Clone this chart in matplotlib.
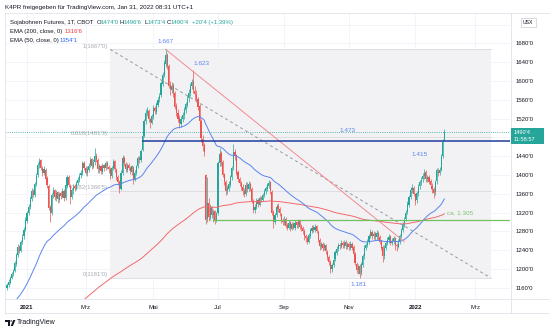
import matplotlib
matplotlib.use("Agg")
import matplotlib.pyplot as plt
import numpy as np
import pandas as pd
from matplotlib.patches import Rectangle, Polygon, Circle

plt.rcParams["font.family"] = ["Liberation Sans", "DejaVu Sans"]

# ---------------- daily OHLC, Sojabohnen Futures (US cents / bushel) ----------------
opens = [
    1160, 1166, 1171, 1181, 1189, 1196, 1211, 1229, 1246, 1239,
    1257, 1269, 1283, 1303, 1320, 1331, 1349, 1366, 1357, 1381,
    1399, 1421, 1431, 1414, 1404, 1411, 1393, 1376, 1331, 1319,
    1359, 1367, 1351, 1363, 1347, 1361, 1354, 1366, 1351, 1377,
    1396, 1377, 1353, 1367, 1376, 1371, 1383, 1389, 1399, 1404,
    1426, 1414, 1404, 1411, 1421, 1433, 1417, 1427, 1441, 1431,
    1411, 1419, 1407, 1421, 1414, 1426, 1417, 1413, 1397, 1414,
    1429, 1411, 1396, 1384, 1371, 1404, 1436, 1424, 1411, 1421,
    1414, 1407, 1417, 1391, 1404, 1419, 1436, 1431, 1452, 1483,
    1514, 1531, 1537, 1519, 1511, 1524, 1543, 1534, 1549, 1561,
    1569, 1594, 1613, 1637, 1656, 1631, 1591, 1581, 1591, 1574,
    1546, 1531, 1521, 1509, 1519, 1527, 1539, 1549, 1563, 1574,
    1589, 1599, 1579, 1573, 1561, 1546, 1514, 1477, 1463, 1400,
    1306, 1341, 1309, 1331, 1314, 1323, 1304, 1318, 1426, 1446,
    1427, 1401, 1384, 1366, 1371, 1379, 1396, 1416, 1449, 1441,
    1406, 1391, 1383, 1374, 1366, 1359, 1379, 1369, 1381, 1371,
    1344, 1326, 1331, 1346, 1337, 1351, 1347, 1357, 1366, 1371,
    1377, 1384, 1364, 1321, 1299, 1314, 1333, 1327, 1317, 1303,
    1299, 1306, 1293, 1287, 1299, 1285, 1296, 1287, 1299, 1293,
    1301, 1291, 1287, 1281, 1271, 1266, 1257, 1271, 1281, 1289,
    1282, 1291, 1279, 1261, 1247, 1253, 1244, 1251, 1237, 1226,
    1214, 1199, 1209, 1221, 1234, 1243, 1251, 1247, 1256, 1249,
    1257, 1247, 1253, 1245, 1254, 1246, 1231, 1211, 1197, 1206,
    1191, 1209, 1227, 1244, 1251, 1257, 1269, 1279, 1269, 1276,
    1267, 1277, 1267, 1259, 1246, 1227, 1244, 1256, 1261, 1269,
    1256, 1259, 1266, 1251, 1247, 1257, 1269, 1283, 1294, 1306,
    1321, 1337, 1353, 1367, 1373, 1359, 1346, 1361, 1376, 1384,
    1391, 1397, 1406, 1391, 1396, 1386, 1377, 1371, 1363, 1386,
    1409, 1404, 1411, 1441, 1474,
]
highs = [
    1170, 1178, 1184, 1194, 1200, 1216, 1234, 1252, 1250, 1262,
    1275, 1290, 1310, 1324, 1338, 1355, 1372, 1370, 1385, 1405,
    1428, 1437, 1434, 1420, 1418, 1414, 1398, 1380, 1335, 1362,
    1375, 1370, 1368, 1366, 1364, 1366, 1372, 1370, 1383, 1400,
    1400, 1380, 1372, 1380, 1380, 1387, 1395, 1404, 1410, 1430,
    1430, 1420, 1418, 1425, 1438, 1436, 1434, 1458, 1446, 1435,
    1424, 1422, 1426, 1424, 1430, 1430, 1422, 1416, 1420, 1434,
    1432, 1415, 1400, 1390, 1410, 1442, 1440, 1428, 1425, 1426,
    1420, 1422, 1420, 1410, 1422, 1440, 1440, 1455, 1485, 1520,
    1540, 1545, 1540, 1522, 1530, 1548, 1546, 1555, 1566, 1574,
    1600, 1620, 1645, 1667, 1660, 1635, 1600, 1598, 1596, 1578,
    1552, 1540, 1528, 1525, 1534, 1545, 1556, 1570, 1582, 1596,
    1605, 1623, 1590, 1580, 1566, 1550, 1518, 1485, 1468, 1402,
    1395, 1350, 1338, 1334, 1328, 1326, 1322, 1430, 1458, 1450,
    1432, 1405, 1390, 1378, 1386, 1400, 1420, 1465, 1455, 1444,
    1410, 1396, 1388, 1380, 1372, 1384, 1385, 1386, 1385, 1374,
    1348, 1338, 1350, 1350, 1355, 1356, 1362, 1370, 1376, 1383,
    1390, 1388, 1368, 1325, 1320, 1338, 1340, 1332, 1320, 1308,
    1312, 1310, 1298, 1304, 1302, 1300, 1300, 1304, 1303, 1306,
    1304, 1295, 1292, 1285, 1275, 1270, 1276, 1286, 1294, 1294,
    1296, 1294, 1282, 1265, 1258, 1257, 1255, 1254, 1240, 1230,
    1218, 1212, 1225, 1240, 1248, 1256, 1256, 1262, 1260, 1262,
    1262, 1258, 1258, 1260, 1258, 1250, 1236, 1215, 1210, 1210,
    1215, 1232, 1250, 1256, 1264, 1275, 1285, 1282, 1280, 1279,
    1282, 1280, 1272, 1262, 1250, 1250, 1260, 1268, 1274, 1272,
    1266, 1270, 1268, 1256, 1263, 1274, 1286, 1300, 1310, 1326,
    1344, 1358, 1374, 1380, 1376, 1362, 1366, 1380, 1390, 1396,
    1404, 1412, 1410, 1400, 1400, 1392, 1382, 1375, 1390, 1415,
    1414, 1416, 1445, 1476, 1496.75,
]
lows = [
    1156, 1162, 1168, 1178, 1185, 1193, 1207, 1225, 1234, 1236,
    1252, 1264, 1280, 1298, 1314, 1327, 1345, 1352, 1352, 1376,
    1395, 1415, 1410, 1398, 1400, 1388, 1372, 1325, 1300, 1315,
    1350, 1346, 1345, 1340, 1342, 1348, 1350, 1345, 1347, 1372,
    1374, 1338, 1348, 1360, 1366, 1368, 1378, 1385, 1394, 1400,
    1410, 1400, 1398, 1406, 1416, 1412, 1414, 1422, 1428, 1405,
    1404, 1402, 1403, 1408, 1410, 1412, 1405, 1392, 1394, 1410,
    1406, 1390, 1378, 1362, 1368, 1400, 1420, 1406, 1406, 1410,
    1402, 1400, 1380, 1386, 1400, 1415, 1426, 1428, 1450, 1480,
    1508, 1525, 1512, 1500, 1508, 1520, 1530, 1530, 1545, 1556,
    1565, 1590, 1608, 1630, 1625, 1585, 1570, 1575, 1565, 1540,
    1525, 1512, 1500, 1502, 1512, 1520, 1532, 1545, 1555, 1568,
    1582, 1575, 1560, 1555, 1538, 1505, 1470, 1450, 1440, 1295,
    1300, 1302, 1305, 1308, 1300, 1295, 1300, 1315, 1420, 1420,
    1395, 1378, 1358, 1360, 1366, 1375, 1390, 1410, 1432, 1400,
    1385, 1376, 1368, 1358, 1352, 1355, 1364, 1365, 1365, 1340,
    1318, 1320, 1328, 1332, 1334, 1342, 1344, 1352, 1360, 1366,
    1372, 1360, 1315, 1288, 1295, 1310, 1322, 1312, 1298, 1294,
    1294, 1288, 1282, 1284, 1280, 1282, 1284, 1283, 1288, 1288,
    1285, 1280, 1274, 1262, 1258, 1252, 1255, 1266, 1276, 1278,
    1278, 1276, 1258, 1240, 1242, 1238, 1240, 1232, 1220, 1208,
    1192, 1194, 1205, 1216, 1230, 1238, 1242, 1244, 1244, 1245,
    1242, 1242, 1240, 1240, 1240, 1228, 1208, 1192, 1190, 1181,
    1186, 1205, 1222, 1240, 1246, 1254, 1265, 1264, 1264, 1262,
    1262, 1262, 1252, 1240, 1215, 1222, 1240, 1250, 1256, 1250,
    1250, 1254, 1240, 1238, 1244, 1254, 1265, 1278, 1290, 1302,
    1316, 1332, 1348, 1362, 1355, 1335, 1340, 1356, 1370, 1378,
    1385, 1392, 1385, 1384, 1380, 1370, 1362, 1350, 1358, 1380,
    1398, 1400, 1408, 1436, 1473.5,
]
closes = [
    1165, 1172, 1180, 1190, 1195, 1212, 1230, 1247, 1238, 1258,
    1268, 1282, 1304, 1318, 1332, 1348, 1365, 1358, 1380, 1398,
    1422, 1430, 1415, 1405, 1412, 1392, 1378, 1330, 1318, 1358,
    1366, 1352, 1362, 1348, 1360, 1355, 1365, 1350, 1378, 1395,
    1378, 1352, 1368, 1375, 1372, 1382, 1390, 1398, 1405, 1425,
    1415, 1405, 1412, 1420, 1432, 1418, 1428, 1440, 1432, 1412,
    1418, 1408, 1420, 1415, 1425, 1418, 1412, 1398, 1415, 1428,
    1412, 1395, 1385, 1370, 1405, 1435, 1425, 1412, 1420, 1415,
    1408, 1418, 1390, 1405, 1418, 1435, 1432, 1450, 1482, 1515,
    1532, 1538, 1518, 1512, 1525, 1542, 1535, 1550, 1560, 1568,
    1595, 1612, 1638, 1655, 1632, 1590, 1582, 1590, 1575, 1545,
    1532, 1520, 1510, 1518, 1528, 1538, 1550, 1562, 1575, 1590,
    1598, 1580, 1572, 1562, 1545, 1515, 1478, 1462, 1448, 1305,
    1340, 1310, 1330, 1315, 1322, 1305, 1318, 1425, 1445, 1428,
    1400, 1385, 1365, 1372, 1380, 1395, 1415, 1448, 1440, 1405,
    1392, 1382, 1375, 1365, 1360, 1378, 1370, 1380, 1370, 1345,
    1325, 1332, 1345, 1338, 1350, 1348, 1358, 1365, 1372, 1378,
    1383, 1365, 1320, 1300, 1315, 1332, 1328, 1318, 1302, 1300,
    1305, 1292, 1288, 1298, 1286, 1295, 1288, 1298, 1294, 1300,
    1290, 1286, 1280, 1270, 1265, 1258, 1272, 1282, 1288, 1283,
    1290, 1280, 1262, 1248, 1252, 1245, 1250, 1238, 1225, 1215,
    1200, 1208, 1220, 1235, 1242, 1250, 1248, 1255, 1250, 1256,
    1248, 1252, 1246, 1253, 1245, 1232, 1212, 1198, 1205, 1190,
    1210, 1228, 1245, 1250, 1258, 1270, 1278, 1270, 1275, 1268,
    1276, 1268, 1258, 1245, 1228, 1245, 1255, 1262, 1268, 1255,
    1260, 1265, 1250, 1248, 1258, 1270, 1282, 1295, 1305, 1320,
    1338, 1352, 1368, 1372, 1360, 1345, 1362, 1375, 1385, 1390,
    1398, 1405, 1392, 1395, 1385, 1378, 1370, 1362, 1385, 1410,
    1405, 1410, 1440, 1470, 1490.5,
]

# EMA starting levels carried over from the 2020 history
ema50_start = 1115
ema200_start = 995

# drawn levels / annotations
fib_high = 1667
fib_low = 1181
line_1473 = 1473
line_1305 = 1305
last_price = 1490.5

month_labels = ["2021", "Mrz", "Mai", "Jul", "Sep", "Nov", "2022", "Mrz"]
month_starts = ["2021-01", "2021-03", "2021-05", "2021-07", "2021-09",
                "2021-11", "2022-01", "2022-03"]
price_ticks = list(range(1160, 1721, 40))
# scale labels hidden behind the price tag and the currency badge
covered_ticks = [1480, 1720]

# ---------------- CBOT trading calendar (bar index axis) ----------------
holidays = ["2020-12-25", "2021-01-01", "2021-01-18", "2021-02-15", "2021-04-02",
            "2021-05-31", "2021-07-05", "2021-09-06", "2021-11-25", "2021-12-24",
            "2022-01-17", "2022-02-21"]
cal = pd.bdate_range("2020-12-14", "2022-04-29", freq="C", holidays=holidays)


def bar_of(day):
    return int(cal.searchsorted(pd.Timestamp(day)))


o = np.array(opens, float)
h = np.array(highs, float)
l = np.array(lows, float)
c = np.array(closes, float)
n = len(c)
idx = np.arange(n)


def ema(values, span, start):
    a = 2.0 / (span + 1)
    e = start
    out = []
    for v in values:
        e = e + a * (v - e)
        out.append(e)
    return np.array(out)


ema50 = ema(c, 50, ema50_start)
ema200 = ema(c, 200, ema200_start)

# ---------------- figure ----------------
W, H = 550, 332
fig = plt.figure(figsize=(W / 100, H / 100), dpi=100)
fig.patch.set_facecolor("white")

PL, PR, PT, PB = 5, 510, 13, 299
ax = fig.add_axes([PL / W, 1 - PB / H, (PR - PL) / W, (PB - PT) / H])
ax.set_xlim(-1.3, 326.6)
ax.set_ylim(1136, 1744.5)
ax.set_facecolor("white")

TXT = "#131722"
GREEN = "#26a69a"
RED = "#ef5350"
FS = 4.3

# grid and scales
tick_bars = [bar_of(m + "-01") for m in month_starts]
ax.set_xticks(tick_bars)
ax.set_xticklabels(month_labels)
ax.set_yticks(price_ticks)
ax.set_yticklabels(["" if v in covered_ticks else f"{v}'0" for v in price_ticks])
ax.grid(True, color="#f0f3fa", lw=0.6, zorder=0)
ax.set_axisbelow(True)
ax.yaxis.tick_right()
ax.tick_params(axis="y", length=0, pad=4.3, labelsize=FS, labelcolor=TXT)
ax.tick_params(axis="x", length=0, pad=4.4, labelsize=FS, labelcolor=TXT)
for lab in ax.get_xticklabels():
    if lab.get_text().isdigit():
        lab.set_fontweight("bold")
for s in ax.spines.values():
    s.set_visible(False)

# Fibonacci retracement zone
f0, f1 = bar_of("2021-03-23"), bar_of("2022-03-15")
ax.add_patch(Rectangle((f0, fib_low), f1 - f0, fib_high - fib_low,
                       facecolor="#f2f2f5", edgecolor="none", zorder=1))
levels = [(1.0, "1"), (0.618, "0.618"), (0.382, "0.382"), (0.0, "0")]
for lv, name in levels:
    p = fib_low + lv * (fib_high - fib_low)
    ax.plot([f0, f1], [p, p], color="#d9dbe1", lw=0.6, zorder=1.2)
    cents = int(p)
    eighths = int(round((p - cents) * 8))
    ax.annotate(f"{name}({cents}'{eighths})", (f0, p), xytext=(-1.5, 0.6),
                textcoords="offset points", ha="right", va="bottom",
                fontsize=FS, color="#a9acb5", zorder=2)
ax.plot([f0, f1], [fib_high, fib_low], color="#9598a1", lw=0.7,
        ls=(0, (3, 3)), zorder=4)

# candles
col = np.where(c >= o, GREEN, RED)
ax.vlines(idx, l, h, colors=col, lw=0.5, zorder=3)
body = np.maximum(np.abs(c - o), 1.2)
ax.bar(idx, body, bottom=np.minimum(o, c), width=0.75, color=col, lw=0, zorder=3.1)

# moving averages
ax.plot(idx, ema200, color="#f2696b", lw=0.7, zorder=3.5)
ax.plot(idx, ema50, color="#5a84f0", lw=0.7, zorder=3.5)

# drawings
pk = int(np.argmax(h))
second_pk = int(np.argmax(h[pk + 5:])) + pk + 5
lo = int(np.argmin(l[pk:])) + pk
t_end = bar_of("2021-12-22")
ax.plot([pk, t_end], [fib_high, 1258], color="#f28a8f", lw=0.7, zorder=4)
ax.plot([bar_of("2021-04-22"), 326.6], [line_1473, line_1473],
        color="#1f3c9e", lw=1.1, zorder=4.2)
ax.plot([bar_of("2021-06-28"), 326.6], [line_1305, line_1305],
        color="#72c05f", lw=0.9, zorder=4.2)
ax.axhline(last_price, color=GREEN, lw=0.6, ls=(0, (1, 1.6)), zorder=4.1)

LBL = "#5b84f0"
ax.annotate("1.667", (pk, fib_high), xytext=(0, 4.0), textcoords="offset points",
            ha="center", va="bottom", fontsize=FS + 0.3, color=LBL, zorder=5)
ax.annotate("1.623", (second_pk, h[second_pk]), xytext=(0, 3),
            textcoords="offset points", ha="left", va="bottom",
            fontsize=FS + 0.3, color=LBL, zorder=5)
ax.annotate("1.473", (bar_of("2021-10-29"), line_1473), xytext=(0, 5.2),
            textcoords="offset points", ha="center", va="bottom",
            fontsize=FS + 0.3, color=LBL, zorder=5)
ax.annotate("1.415", (bar_of("2022-01-06"), 1415), xytext=(0, 8),
            textcoords="offset points", ha="center", va="bottom",
            fontsize=FS + 0.3, color=LBL, zorder=5)
ax.annotate("ca. 1.305", (bar_of("2022-02-14"), line_1305), xytext=(0, 2.5),
            textcoords="offset points", ha="center", va="bottom",
            fontsize=FS + 0.3, color="#7cc46a", zorder=5)
ax.annotate("1.181", (lo - 1, l[lo]), xytext=(0, -3.2), textcoords="offset points",
            ha="center", va="top", fontsize=FS + 0.3, color=LBL, zorder=5)


# ---------------- frame, header, price tag ----------------
def fx(px):
    return px / W


def fy(py):
    return 1 - py / H


def ftxt(px, py, s, color=TXT, **kw):
    fig.text(fx(px), fy(py), s, color=color, fontsize=kw.pop("fontsize", FS),
             va="center", ha=kw.pop("ha", "left"), zorder=10, **kw)


line_kw = dict(color="#e0e3eb", lw=0.6, zorder=6)
for (xa, ya, xb, yb) in [(5, 13, 549, 13), (5, 299, 549, 299), (5, 313, 549, 313),
                         (511, 13, 511, 313), (5, 13, 5, 313)]:
    fig.add_artist(plt.Line2D([fx(xa), fx(xb)], [fy(ya), fy(yb)],
                              transform=fig.transFigure, **line_kw))

ftxt(5, 7.3, "K4PR freigegeben für TradingView.com, Jan 31, 2022 08:31 UTC+1", fontsize=4.5)
ftxt(10, 22.5, "Sojabohnen Futures, 1T, CBOT")
ftxt(97, 22.5, "O")
ftxt(100.5, 22.5, "1474'0", GREEN)
ftxt(120, 22.5, "H")
ftxt(123.8, 22.5, "1496'6", GREEN)
ftxt(144.5, 22.5, "L")
ftxt(147.8, 22.5, "1473'4", GREEN)
ftxt(167, 22.5, "C")
ftxt(171, 22.5, "1490'4", GREEN)
ftxt(192.5, 22.5, "+20'4 (+1.39%)", GREEN)
ftxt(10, 31.3, "EMA (200, close, 0)")
ftxt(65, 31.3, "1316'6", "#f23645")
ftxt(10, 40.3, "EMA (50, close, 0)")
ftxt(60, 40.3, "1354'1", "#2962ff")

# price tag on the scale
fig.add_artist(Rectangle((fx(511), fy(144)), 33 / W, 16 / H, transform=fig.transFigure,
                         facecolor=GREEN, edgecolor="none", zorder=8))
ftxt(514, 132.6, "1490'4", "white", fontsize=4.1)
ftxt(514, 139.6, "11:58:57", "white", fontsize=4.1)

# currency badge
fig.add_artist(Rectangle((fx(520.5), fy(26.5)), 15 / W, 9 / H, transform=fig.transFigure,
                         facecolor="white", edgecolor="#c9ccd4", lw=0.5, zorder=8))
ftxt(528, 22, "USX", fontsize=3.7, ha="center")

# TradingView mark
fig.add_artist(Polygon([(fx(5), fy(320)), (fx(9.6), fy(320)), (fx(9.6), fy(326)),
                        (fx(7.6), fy(326)), (fx(7.6), fy(322)), (fx(5), fy(322))],
                       closed=True, transform=fig.transFigure, facecolor=TXT,
                       edgecolor="none", zorder=9))
fig.add_artist(Circle((fx(11.2), fy(321)), 1.0 / W, transform=fig.transFigure,
                      facecolor=TXT, edgecolor="none", zorder=9))
fig.add_artist(Polygon([(fx(13.2), fy(320)), (fx(15.4), fy(320)), (fx(12.9), fy(326)),
                        (fx(10.7), fy(326))], closed=True, transform=fig.transFigure,
                       facecolor=TXT, edgecolor="none", zorder=9))
ftxt(17, 323, "TradingView", fontsize=5.0)

fig.savefig("out.png", dpi=100, facecolor="white")
